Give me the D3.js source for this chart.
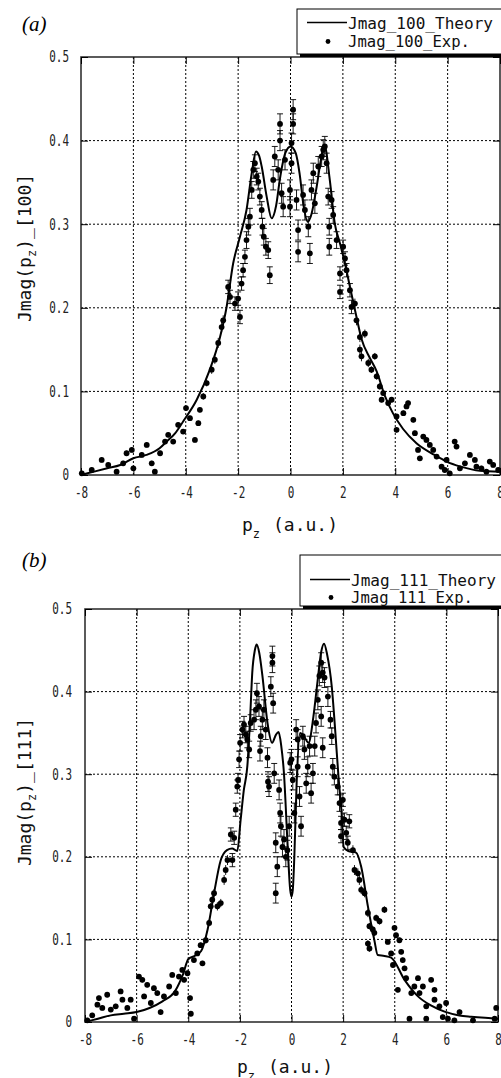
<!DOCTYPE html>
<html>
<head>
<meta charset="utf-8">
<script src="https://cdn.jsdelivr.net/npm/d3@7"></script>
<style>
  body { margin: 0; background: #fff; }
</style>
</head>
<body>
<div id="chart"></div>
<script>
const xTicks = [-8, -6, -4, -2, 0, 2, 4, 6, 8];
const yTicks = [0, 0.1, 0.2, 0.3, 0.4, 0.5];

// [100] theory curve
const theory100X = [-8,-7.5,-7,-6.5,-6,-5.5,-5,-4.73,-4.4,-4.1,-3.58,-3.08,-2.69,-2.44,-2.19,-1.93,-1.68,-1.48,-1.32,-1.2,-1.1,-0.91,-0.72,-0.55,-0.4,-0.2,0,0.2,0.35,0.5,0.66,0.8,1.0,1.15,1.3,1.5,1.69,1.89,2.08,2.27,2.52,2.71,3.03,3.29,3.6,3.91,4.3,4.81,5.5,5.96,6.5,7.23,8];
const theory100Y = [0,0.004,0.008,0.012,0.02,0.024,0.032,0.04,0.05,0.064,0.09,0.126,0.165,0.201,0.253,0.285,0.317,0.361,0.387,0.382,0.369,0.333,0.307,0.322,0.355,0.385,0.393,0.385,0.36,0.322,0.303,0.312,0.345,0.375,0.394,0.353,0.301,0.277,0.253,0.225,0.189,0.163,0.14,0.124,0.095,0.074,0.055,0.038,0.024,0.016,0.01,0.005,0.004];

// [100] experiment: [pz, J, error]
const exp100 = [
  [-7.97,0.002,0.003],[-7.59,0.006,0.003],[-7.21,0.018,0.003],[-6.96,0.012,0.003],[-6.64,0.004,0.003],[-6.39,0.014,0.003],[-6.26,0.026,0.003],[-6.06,0.030,0.003],[-6.0,0.008,0.003],[-5.68,0.024,0.003],
  [-5.49,0.036,0.003],[-5.3,0.014,0.003],[-5.18,0.004,0.003],[-4.98,0.026,0.003],[-4.79,0.040,0.003],[-4.67,0.048,0.003],[-4.48,0.040,0.003],[-4.29,0.060,0.003],[-4.1,0.052,0.003],[-3.99,0.080,0.003],
  [-3.84,0.068,0.003],[-3.65,0.042,0.003],[-3.52,0.062,0.003],[-3.46,0.078,0.003],[-3.33,0.094,0.004],[-3.2,0.110,0.004],[-3.01,0.126,0.005],[-2.89,0.138,0.005],[-2.76,0.158,0.006],[-2.63,0.177,0.006],
  [-2.57,0.185,0.006],[-2.38,0.225,0.008],[-2.31,0.213,0.008],[-2.12,0.205,0.008],[-2.0,0.211,0.008],[-1.93,0.189,0.008],[-1.87,0.229,0.008],[-1.81,0.245,0.008],[-1.74,0.261,0.008],[-1.68,0.281,0.01],
  [-1.61,0.297,0.01],[-1.55,0.309,0.01],[-1.48,0.341,0.01],[-1.42,0.365,0.01],[-1.36,0.373,0.01],[-1.29,0.357,0.01],[-1.23,0.351,0.01],[-1.17,0.333,0.01],[-1.1,0.317,0.01],[-1.07,0.297,0.01],
  [-1.02,0.285,0.01],[-0.94,0.273,0.01],[-0.85,0.269,0.01],[-0.79,0.239,0.01],[-0.66,0.353,0.012],[-0.6,0.381,0.012],[-0.47,0.365,0.012],[-0.4,0.40,0.012],[-0.4,0.42,0.012],[-0.34,0.337,0.012],
  [-0.28,0.321,0.012],[-0.21,0.377,0.012],[0.04,0.397,0.012],[0.04,0.373,0.012],[-0.02,0.341,0.012],[-0.02,0.321,0.012],[0.1,0.437,0.012],[0.1,0.42,0.012],[0.23,0.329,0.012],[0.29,0.293,0.012],
  [0.29,0.267,0.012],[0.48,0.335,0.012],[0.55,0.317,0.012],[0.68,0.297,0.012],[0.74,0.265,0.012],[0.8,0.341,0.012],[0.87,0.361,0.012],[0.93,0.325,0.012],[1.06,0.369,0.012],[1.19,0.381,0.012],
  [1.25,0.389,0.012],[1.31,0.393,0.012],[1.38,0.373,0.012],[1.44,0.333,0.01],[1.57,0.329,0.01],[1.63,0.311,0.01],[1.48,0.297,0.01],[1.48,0.273,0.01],[1.76,0.281,0.01],[1.89,0.241,0.008],
  [1.89,0.219,0.008],[2.01,0.273,0.008],[2.08,0.259,0.008],[2.14,0.245,0.008],[2.27,0.221,0.008],[2.33,0.201,0.008],[2.46,0.205,0.006],[2.52,0.185,0.006],[2.65,0.165,0.006],[2.65,0.150,0.006],
  [2.71,0.142,0.006],[2.84,0.169,0.005],[2.97,0.134,0.005],[3.09,0.126,0.004],[3.22,0.142,0.004],[3.29,0.118,0.004],[3.41,0.106,0.004],[3.54,0.098,0.003],[3.48,0.090,0.003],[3.73,0.086,0.003],
  [3.86,0.090,0.003],[4.05,0.070,0.003],[4.05,0.054,0.003],[4.31,0.074,0.003],[4.43,0.082,0.003],[4.49,0.086,0.003],[4.69,0.066,0.003],[4.75,0.050,0.003],[4.87,0.030,0.003],[4.94,0.020,0.003],
  [5.07,0.046,0.003],[5.19,0.042,0.003],[5.32,0.036,0.003],[5.45,0.030,0.003],[5.58,0.022,0.003],[5.77,0.010,0.003],[5.89,0.006,0.003],[5.96,0.018,0.003],[6.08,0.002,0.003],[6.27,0.040,0.003],
  [6.34,0.034,0.003],[6.47,0.008,0.003],[6.66,0.014,0.003],[6.85,0.024,0.003],[7.04,0.018,0.003],[7.1,0.010,0.003],[7.29,0.008,0.003],[7.48,0.004,0.003],[7.61,0.016,0.003],[7.74,0.012,0.003],
  [7.93,0.006,0.003]
];

// [111] theory curve
const theory111X = [-8,-7.5,-7,-6.5,-6,-5.5,-5,-4.5,-4.2,-4,-3.75,-3.5,-3.25,-3,-2.75,-2.5,-2.3,-2.1,-1.97,-1.85,-1.71,-1.6,-1.52,-1.42,-1.35,-1.25,-1.13,-0.93,-0.75,-0.6,-0.5,-0.4,-0.29,-0.16,-0.05,0,0.05,0.11,0.2,0.33,0.5,0.66,0.85,1.0,1.15,1.26,1.38,1.56,1.7,1.82,1.95,2.02,2.2,2.5,2.7,2.96,3.21,3.34,3.6,3.86,4.38,4.9,5.4,5.93,6.5,6.96,7.5,8];
const theory111Y = [0,0.004,0.008,0.01,0.012,0.017,0.025,0.038,0.058,0.076,0.08,0.086,0.112,0.156,0.195,0.208,0.21,0.207,0.245,0.28,0.31,0.37,0.423,0.45,0.457,0.447,0.42,0.362,0.338,0.348,0.351,0.335,0.3,0.22,0.16,0.152,0.16,0.2,0.29,0.35,0.345,0.338,0.37,0.41,0.448,0.458,0.445,0.406,0.35,0.297,0.249,0.212,0.207,0.205,0.188,0.14,0.099,0.081,0.08,0.078,0.051,0.031,0.02,0.0125,0.008,0.0064,0.005,0.004];

// [111] experiment: [pz, J, error]
const exp111 = [
  [-7.91,0.002,0.003],[-7.72,0.008,0.003],[-7.52,0.021,0.003],[-7.46,0.029,0.003],[-7.33,0.017,0.003],[-7.14,0.033,0.003],[-7.0,0.015,0.003],[-6.81,0.019,0.003],[-6.62,0.037,0.003],[-6.55,0.027,0.003],
  [-6.36,0.017,0.003],[-6.23,0.027,0.003],[-6.1,0.004,0.003],[-5.91,0.055,0.003],[-5.78,0.051,0.003],[-5.71,0.031,0.003],[-5.59,0.045,0.003],[-5.45,0.023,0.003],[-5.33,0.041,0.003],[-5.2,0.035,0.003],
  [-5.07,0.012,0.003],[-4.94,0.031,0.003],[-4.74,0.043,0.003],[-4.62,0.057,0.003],[-4.48,0.035,0.003],[-4.36,0.055,0.003],[-4.23,0.063,0.003],[-4.16,0.051,0.003],[-4.03,0.059,0.003],[-3.93,0.029,0.003],
  [-3.9,0.010,0.003],[-3.78,0.075,0.003],[-3.65,0.083,0.003],[-3.52,0.093,0.003],[-3.45,0.071,0.003],[-3.32,0.099,0.004],[-3.19,0.120,0.004],[-3.13,0.140,0.004],[-3.07,0.148,0.005],[-3.0,0.156,0.005],
  [-2.87,0.140,0.005],[-2.74,0.144,0.005],[-2.61,0.172,0.006],[-2.55,0.184,0.006],[-2.48,0.196,0.006],[-2.35,0.227,0.008],[-2.22,0.223,0.008],[-2.29,0.196,0.008],[-2.16,0.257,0.008],[-2.1,0.285,0.008],
  [-2.07,0.293,0.008],[-2.03,0.318,0.01],[-1.99,0.338,0.01],[-1.9,0.354,0.01],[-1.84,0.360,0.01],[-1.77,0.348,0.01],[-1.71,0.342,0.01],[-1.64,0.330,0.01],[-1.58,0.362,0.01],[-1.45,0.366,0.012],
  [-1.38,0.378,0.012],[-1.34,0.398,0.012],[-1.26,0.382,0.012],[-1.19,0.346,0.012],[-1.22,0.328,0.012],[-1.13,0.366,0.012],[-1.07,0.378,0.012],[-1.0,0.354,0.012],[-0.93,0.320,0.012],[-0.91,0.291,0.012],
  [-0.87,0.285,0.012],[-0.8,0.406,0.012],[-0.74,0.443,0.012],[-0.74,0.435,0.012],[-0.71,0.386,0.012],[-0.67,0.301,0.012],[-0.61,0.217,0.012],[-0.55,0.188,0.012],[-0.61,0.156,0.012],[-0.48,0.281,0.012],
  [-0.44,0.253,0.012],[-0.41,0.237,0.012],[-0.35,0.212,0.012],[-0.29,0.221,0.012],[-0.22,0.200,0.012],[-0.16,0.208,0.012],[-0.09,0.237,0.012],[-0.05,0.314,0.012],[0.0,0.318,0.012],[0.05,0.293,0.012],
  [0.11,0.253,0.012],[0.18,0.354,0.012],[0.24,0.342,0.012],[0.24,0.309,0.012],[0.31,0.273,0.012],[0.37,0.237,0.012],[0.44,0.346,0.012],[0.5,0.330,0.012],[0.57,0.289,0.012],[0.63,0.309,0.012],
  [0.7,0.334,0.012],[0.76,0.277,0.012],[0.83,0.301,0.012],[0.9,0.334,0.012],[0.95,0.362,0.012],[1.02,0.390,0.012],[1.08,0.419,0.012],[1.15,0.435,0.012],[1.21,0.423,0.012],[1.28,0.417,0.012],
  [1.15,0.370,0.012],[1.21,0.332,0.012],[1.41,0.394,0.012],[1.51,0.366,0.01],[1.56,0.346,0.01],[1.6,0.309,0.01],[1.66,0.297,0.01],[1.79,0.285,0.01],[1.86,0.265,0.01],[1.99,0.269,0.008],
  [1.92,0.241,0.008],[2.05,0.245,0.008],[2.24,0.243,0.008],[1.92,0.225,0.008],[2.12,0.229,0.008],[2.18,0.217,0.008],[2.38,0.208,0.006],[2.44,0.184,0.006],[2.57,0.180,0.006],[2.63,0.172,0.006],
  [2.7,0.160,0.005],[2.83,0.156,0.005],[2.96,0.132,0.005],[3.02,0.116,0.004],[3.15,0.112,0.004],[3.28,0.126,0.004],[3.41,0.122,0.004],[3.6,0.136,0.004],[2.96,0.095,0.004],[3.02,0.089,0.004],
  [3.21,0.108,0.004],[3.73,0.097,0.003],[3.86,0.083,0.003],[3.93,0.069,0.003],[3.99,0.114,0.003],[4.05,0.105,0.003],[4.18,0.099,0.003],[4.25,0.085,0.003],[4.31,0.075,0.003],[4.38,0.065,0.003],
  [4.44,0.053,0.003],[4.12,0.039,0.003],[4.57,0.004,0.003],[4.64,0.035,0.003],[4.76,0.043,0.003],[4.9,0.053,0.003],[4.96,0.035,0.003],[5.09,0.043,0.003],[5.22,0.019,0.003],[5.22,0.004,0.003],
  [5.41,0.051,0.003],[5.54,0.039,0.003],[5.54,0.027,0.003],[5.73,0.019,0.003],[5.86,0.006,0.003],[5.99,0.023,0.003],[6.06,0.004,0.003],[6.31,0.002,0.003],[6.51,0.012,0.003],[7.03,0.002,0.003],
  [7.87,0.004,0.003],[7.93,0.017,0.003]
];

const mono = "'DejaVu Sans Mono', monospace";

const svg = d3.select("#chart")
  .append("svg")
  .attr("width", 501)
  .attr("height", 1078);

function drawPanel(p) {
  const x = d3.scaleLinear().domain([-8, 8]).range([p.left, p.right]);
  const y = d3.scaleLinear().domain([0, 0.5]).range([p.bottom, p.top]);
  const g = svg.append("g");

  // dotted grid
  g.append("g").selectAll("line")
    .data(xTicks.slice(1, -1))
    .join("line")
    .attr("x1", d => x(d)).attr("x2", d => x(d))
    .attr("y1", p.top).attr("y2", p.bottom)
    .attr("stroke", "#000").attr("stroke-dasharray", "2,2");
  g.append("g").selectAll("line")
    .data(yTicks.slice(1, -1))
    .join("line")
    .attr("x1", p.left).attr("x2", p.right)
    .attr("y1", d => y(d)).attr("y2", d => y(d))
    .attr("stroke", "#000").attr("stroke-dasharray", "2,2");

  // frame
  g.append("rect")
    .attr("x", p.left).attr("y", p.top)
    .attr("width", p.right - p.left).attr("height", p.bottom - p.top)
    .attr("fill", "none").attr("stroke", "#333").attr("stroke-width", 1.6);

  // inward ticks on all four sides
  const addAxis = (axis, tr) => g.append("g")
    .attr("transform", tr)
    .call(axis)
    .call(s => s.select(".domain").remove());

  const bottomAxis = addAxis(d3.axisBottom(x).tickValues(xTicks).tickSize(-7).tickPadding(12)
    .tickFormat(d => String(d)), `translate(0,${p.bottom})`);
  addAxis(d3.axisTop(x).tickValues(xTicks).tickSize(-7).tickFormat(""), `translate(0,${p.top})`);
  const leftAxis = addAxis(d3.axisLeft(y).tickValues(yTicks).tickSize(-7).tickPadding(p.yPad)
    .tickFormat(d => d === 0 ? "0" : d3.format(".1f")(d)), `translate(${p.left},0)`);
  addAxis(d3.axisRight(y).tickValues(yTicks).tickSize(-7).tickFormat(""), `translate(${p.right},0)`);

  [bottomAxis, leftAxis].forEach(a => {
    a.selectAll("text")
      .attr("font-family", mono)
      .attr("font-size", 15)
      .attr("fill", "#222")
      .attr("textLength", function() { return this.textContent.length * 6.6; })
      .attr("lengthAdjust", "spacingAndGlyphs");
  });
  g.selectAll(".tick line").attr("stroke", "#000");

  // experimental points with error bars
  const pts = g.append("g");
  pts.selectAll("line.err")
    .data(p.exp)
    .join("line")
    .attr("class", "err")
    .attr("x1", d => x(d[0])).attr("x2", d => x(d[0]))
    .attr("y1", d => y(d[1] - d[2])).attr("y2", d => y(d[1] + d[2]))
    .attr("stroke", "#000").attr("stroke-width", 0.9);
  [-1, 1].forEach(s => {
    pts.selectAll("line.cap" + (s > 0 ? "t" : "b"))
      .data(p.exp.filter(d => d[2] >= 0.008))
      .join("line")
      .attr("class", "cap" + (s > 0 ? "t" : "b"))
      .attr("x1", d => x(d[0]) - 3).attr("x2", d => x(d[0]) + 3)
      .attr("y1", d => y(d[1] + s * d[2])).attr("y2", d => y(d[1] + s * d[2]))
      .attr("stroke", "#000").attr("stroke-width", 0.9);
  });
  pts.selectAll("circle")
    .data(p.exp)
    .join("circle")
    .attr("cx", d => x(d[0])).attr("cy", d => y(d[1]))
    .attr("r", 2.9)
    .attr("fill", "#000");

  // theory curve
  const line = d3.line()
    .x(d => x(d[0]))
    .y(d => y(d[1]))
    .curve(d3.curveMonotoneX);
  g.append("path")
    .datum(d3.zip(p.theoryX, p.theoryY))
    .attr("d", line)
    .attr("fill", "none")
    .attr("stroke", "#000")
    .attr("stroke-width", 2);

  // panel tag
  g.append("text")
    .attr("x", 22).attr("y", p.tagY)
    .attr("font-family", "'Liberation Serif', serif")
    .attr("font-style", "italic")
    .attr("font-size", 21)
    .text(p.tag);

  // y label
  const yl = g.append("text")
    .attr("transform", `translate(31,${p.ylabY}) rotate(-90)`)
    .attr("text-anchor", "middle")
    .attr("font-family", mono)
    .attr("font-size", 18)
    .attr("fill", "#111");
  yl.append("tspan").text("Jmag(p");
  yl.append("tspan").attr("dy", 5).attr("font-size", 12).text("z");
  yl.append("tspan").attr("dy", -5).text(")_[" + p.dir + "]");

  // x label
  const xl = g.append("text")
    .attr("y", p.xlabY)
    .attr("font-family", mono)
    .attr("font-size", 18)
    .attr("fill", "#111");
  xl.append("tspan").attr("x", p.xlabP).text("p");
  xl.append("tspan").attr("dy", 7).attr("font-size", 12).text("z");
  xl.append("tspan").attr("dy", -7).attr("x", p.xlabP + 31).text("(a.u.)");

  // legend
  const L = p.legend;
  g.append("rect")
    .attr("x", L.x + 3).attr("y", L.y + 3)
    .attr("width", L.w).attr("height", L.h)
    .attr("fill", "#000");
  g.append("rect")
    .attr("x", L.x).attr("y", L.y)
    .attr("width", L.w).attr("height", L.h)
    .attr("fill", "#fff").attr("stroke", "#000");
  g.append("line")
    .attr("x1", L.x + 10).attr("x2", L.x + 50)
    .attr("y1", L.row1 - 6).attr("y2", L.row1 - 6)
    .attr("stroke", "#000").attr("stroke-width", 1.5);
  g.append("circle")
    .attr("cx", L.x + 31).attr("cy", L.row2 - 5)
    .attr("r", 2.4).attr("fill", "#000");
  const lt = (txt, yy, w) => g.append("text")
    .attr("x", L.x + 51).attr("y", yy)
    .attr("font-family", mono)
    .attr("font-size", 15.5)
    .attr("fill", "#111")
    .attr("textLength", w)
    .attr("lengthAdjust", "spacingAndGlyphs")
    .text(txt);
  lt("Jmag_" + p.dir + "_Theory", L.row1, 145);
  lt("Jmag_" + p.dir + "_Exp.", L.row2, 122);
}

drawPanel({
  left: 81, right: 500, top: 57, bottom: 475, yPad: 12,
  theoryX: theory100X, theoryY: theory100Y, exp: exp100, dir: "100",
  tag: "(a)", tagY: 31, ylabY: 248, xlabP: 242, xlabY: 531,
  legend: { x: 297, y: 9, w: 215, h: 45, row1: 28.5, row2: 46.5 }
});

drawPanel({
  left: 85, right: 498, top: 609, bottom: 1022, yPad: 13,
  theoryX: theory111X, theoryY: theory111Y, exp: exp111, dir: "111",
  tag: "(b)", tagY: 567, ylabY: 792, xlabP: 237, xlabY: 1073,
  legend: { x: 300, y: 555, w: 215, h: 51, row1: 585.5, row2: 602.5 }
});
</script>
</body>
</html>
